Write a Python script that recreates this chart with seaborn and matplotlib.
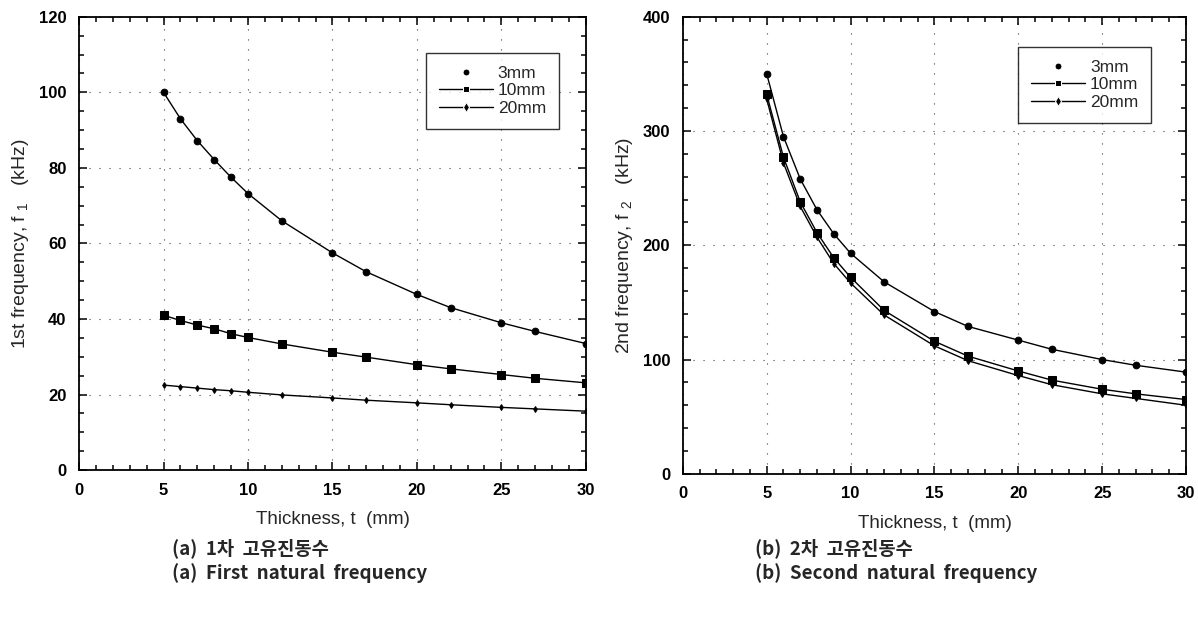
import numpy as np
import pandas as pd
import matplotlib
matplotlib.use("Agg")
import matplotlib.pyplot as plt
from matplotlib.ticker import MultipleLocator
import seaborn as sns

# Plate thickness (mm)
thickness = [5, 6, 7, 8, 9, 10, 12, 15, 17, 20, 22, 25, 27, 30]
series_names = ["3mm", "10mm", "20mm"]

# First natural frequency f1 (kHz)
f1_3mm = [100, 93, 87.2, 82.2, 77.5, 73.2, 66, 57.5, 52.5, 46.5, 43, 39, 36.7, 33.5]
f1_10mm = [41, 39.6, 38.4, 37.4, 36.1, 35.1, 33.4, 31.2, 29.9, 27.9, 26.8, 25.3, 24.3, 23.1]
f1_20mm = [22.5, 22.1, 21.7, 21.3, 21.0, 20.6, 19.9, 19.1, 18.5, 17.8, 17.3, 16.6, 16.2, 15.6]

# Second natural frequency f2 (kHz)
f2_3mm = [350, 295, 258, 231, 210, 193, 168, 142, 129, 117, 109, 100, 95, 89]
f2_10mm = [332, 277, 238, 211, 189, 172, 143, 116, 103, 90, 82, 74, 70, 65]
f2_20mm = [328, 272, 234, 207, 184, 167, 139, 112, 99, 86, 78, 70, 66, 60]

x_ticks = [0, 5, 10, 15, 20, 25, 30]

sns.set_theme(style="ticks")
plt.rcParams["font.family"] = ["Liberation Sans", "DejaVu Sans"]
plt.rcParams["mathtext.default"] = "regular"


def long_frame(values):
    rows = []
    for name, vals in zip(series_names, values):
        for t, v in zip(thickness, vals):
            rows.append({"t": t, "f": v, "series": name})
    return pd.DataFrame(rows)


markers = {"3mm": "o", "10mm": "s", "20mm": "d"}
sizes = {"3mm": 4.8, "10mm": 5.2, "20mm": 3}
palette = {n: "black" for n in series_names}

fig = plt.figure(figsize=(11.98, 6.21), dpi=100)
ax1 = fig.add_axes([0.066, 0.243, 0.423, 0.730])
ax2 = fig.add_axes([0.570, 0.237, 0.420, 0.736])


def draw(ax, values, ymax, ymajor, yminor, ylabel, legend_anchor):
    df = long_frame(values)
    sns.lineplot(data=df, x="t", y="f", hue="series", style="series",
                 markers=markers, dashes=False, palette=palette,
                 linewidth=1.0, markersize=5, ax=ax, legend=True)
    for line, name in zip(ax.lines, series_names):
        line.set_markersize(sizes[name])
        line.set_markeredgecolor("black")
    ax.set_xlim(0, 30)
    ax.set_ylim(0, ymax)
    ax.set_xticks(x_ticks)
    ax.xaxis.set_minor_locator(MultipleLocator(1))
    ax.yaxis.set_major_locator(MultipleLocator(ymajor))
    ax.yaxis.set_minor_locator(MultipleLocator(yminor))
    ax.tick_params(which="both", direction="in", top=True, right=True,
                   colors="black", labelsize=12, width=1.1)
    ax.tick_params(which="major", length=6, pad=9)
    ax.tick_params(which="minor", length=3.5)
    for lab in ax.get_xticklabels() + ax.get_yticklabels():
        lab.set_fontweight("bold")
    for sp in ax.spines.values():
        sp.set_color("black")
        sp.set_linewidth(1.3)
    ax.grid(True, which="major", linestyle=(0, (1, 8)), color="black",
            linewidth=0.8, alpha=0.75)
    ax.set_xlabel("Thickness, t  (mm)", fontsize=13.5, labelpad=10)
    ax.set_ylabel(ylabel, fontsize=14, labelpad=6)
    handles, labels = ax.get_legend_handles_labels()
    handles[0].set_linestyle("none")
    leg = ax.legend(handles, labels, loc="upper left",
                    bbox_to_anchor=legend_anchor, borderaxespad=0,
                    frameon=True, fancybox=False, edgecolor="black",
                    fontsize=12.5, handlelength=3.1, borderpad=0.75,
                    labelspacing=0.12, handletextpad=0.3)
    leg.get_frame().set_linewidth(1.0)


draw(ax1, [f1_3mm, f1_10mm, f1_20mm], 120, 20, 5,
     "1st frequency, f $_{1}$   (kHz)", (0.684, 0.92))
draw(ax2, [f2_3mm, f2_10mm, f2_20mm], 400, 100, 20,
     "2nd frequency, f $_{2}$   (kHz)", (0.666, 0.934))

cap_font = ["Noto Sans CJK KR", "DejaVu Sans"]
cap_kw = dict(family=cap_font, fontsize=13.5, fontweight="bold",
              va="center", ha="left")
fig.text(172 / 1198, 1 - 548 / 621, "(a)  1차  고유진동수", **cap_kw)
fig.text(172 / 1198, 1 - 573 / 621, "(a)  First  natural  frequency", **cap_kw)
fig.text(755 / 1198, 1 - 548 / 621, "(b)  2차  고유진동수", **cap_kw)
fig.text(755 / 1198, 1 - 573 / 621, "(b)  Second  natural  frequency", **cap_kw)

fig.savefig("out.png", dpi=100, facecolor="white")
